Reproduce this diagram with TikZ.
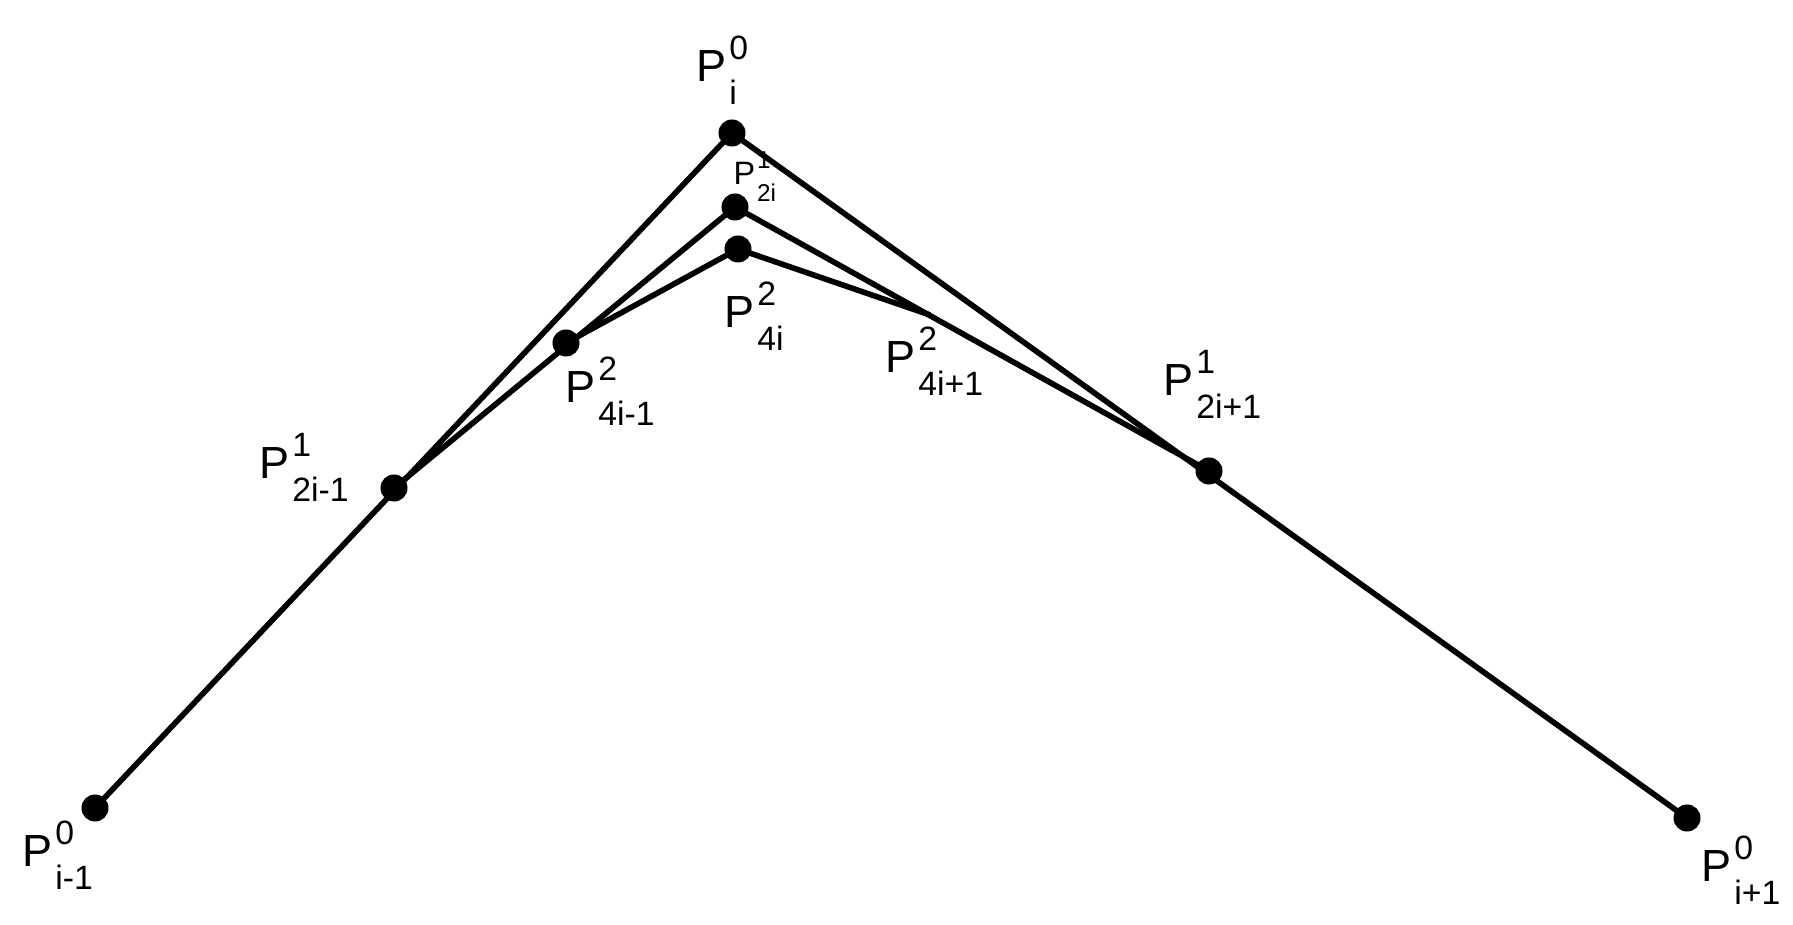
\documentclass[tikz,border=0pt]{standalone}
\usepackage{fontspec}
\setmainfont{Liberation Sans}
\newcommand{\ctrlpt}[2]{P\kern0.06em\rlap{\raisebox{0.5em}{\fontsize{9.6}{11}\selectfont #1}}\raisebox{-0.5em}{\fontsize{9.6}{11}\selectfont #2}}

\begin{document}
\begin{tikzpicture}[x=0.01cm, y=-0.01cm,
    dot/.style={circle, fill=black, inner sep=0pt, minimum size=0.27cm},
    poly/.style={line width=1.6pt},
    lbl/.style={anchor=base west, inner sep=0pt, font=\fontsize{12.8}{15}\selectfont}]
            \useasboundingbox (0,0) rectangle (1793,925);
            % control points
            \node[dot] (pim1)  at (  95, 808) {};
            \node[dot] (pi)    at ( 732, 133) {};
            \node[dot] (pip1)  at (1687, 818) {};
            \node[dot] (p2im1) at ( 394, 488) {};
            \node[dot] (p2i)   at ( 735, 207) {};
            \node[dot] (p2ip1) at (1209, 471) {};
            \node[dot] (p4im1) at ( 566, 343) {};
            \node[dot] (p4i)   at ( 738, 249) {};
            \coordinate (p4ip1) at ( 930, 315);
            % polygons
            \draw[poly] (pim1.center)  -- (pi.center)  -- (pip1.center);
            \draw[poly] (p2im1.center) -- (p2i.center) -- (p2ip1.center);
            \draw[poly] (p4im1.center) -- (p4i.center) -- (p4ip1);
            % labels
            \node[lbl] (lpi)    at ( 696,  82) {\ctrlpt{0}{i}};
            \node[lbl, scale=0.72] (lp2i) at ( 733, 185) {\ctrlpt{1}{2i}};
            \node[lbl] (lp4i)   at ( 724, 328) {\ctrlpt{2}{4i}};
            \node[lbl] (lp4im1) at ( 565, 403) {\ctrlpt{2}{4i-1}};
            \node[lbl] (lp4ip1) at ( 885, 373) {\ctrlpt{2}{4i+1}};
            \node[lbl] (lp2ip1) at (1163, 396) {\ctrlpt{1}{2i+1}};
            \node[lbl] (lp2im1) at ( 259, 479) {\ctrlpt{1}{2i-1}};
            \node[lbl] (lpim1)  at (  22, 867) {\ctrlpt{0}{i-1}};
            \node[lbl] (lpip1)  at (1701, 882) {\ctrlpt{0}{i+1}};
\end{tikzpicture}
\end{document}
